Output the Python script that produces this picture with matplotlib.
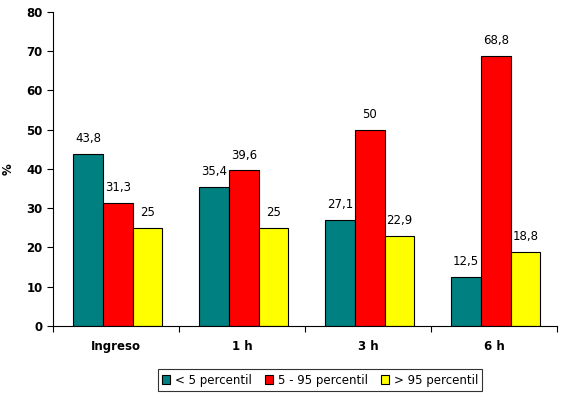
import numpy as np
import matplotlib.pyplot as plt

categories = ['Ingreso', '1 h', '3 h', '6 h']
series_names = ['< 5 percentil', '5 - 95 percentil', '> 95 percentil']
low = [43.8, 35.4, 27.1, 12.5]
mid = [31.3, 39.6, 50, 68.8]
high = [25, 25, 22.9, 18.8]
colors = ['#008080', '#ff0000', '#ffff00']

plt.rcParams['font.family'] = 'DejaVu Sans'

fig = plt.figure(figsize=(5.7, 3.96), dpi=100)
ax = fig.add_axes([0.093, 0.177, 0.884, 0.793])

x = np.arange(len(categories))
w = 0.235
for i, (vals, name, c) in enumerate(zip([low, mid, high], series_names, colors)):
    pos = x + (i - 1) * w + 0.015
    ax.bar(pos, vals, width=w, color=c, edgecolor='black', linewidth=0.8, label=name)
    for px, v in zip(pos, vals):
        txt = ('%g' % v).replace('.', ',')
        ax.text(px, v + 2.2, txt, ha='center', va='bottom', fontsize=8.5)

ax.set_xlim(-0.5, len(categories) - 0.5)
ax.set_ylim(0, 80)
ax.set_yticks(range(0, 81, 10))
ax.set_xticks(x)
ax.set_xticklabels(categories, fontsize=8.5, fontweight='bold')
ax.set_xticks(np.arange(-0.5, len(categories)), minor=True)
ax.tick_params(axis='x', which='major', length=0, pad=10)
ax.tick_params(axis='x', which='minor', length=4, width=0.8)
ax.tick_params(axis='y', length=4, width=0.8, labelsize=8.5)
for lab in ax.get_yticklabels():
    lab.set_fontweight('bold')
ax.set_ylabel('%', fontsize=8.5, fontweight='bold', labelpad=8)
ax.spines['top'].set_visible(False)
ax.spines['right'].set_visible(False)

leg = ax.legend(loc='upper center', bbox_to_anchor=(0.53, -0.12), ncol=3, fontsize=8.5,
                frameon=True, fancybox=False, edgecolor='black', handlelength=0.7,
                handleheight=0.7, handletextpad=0.4, columnspacing=1.1, borderpad=0.35)
leg.get_frame().set_linewidth(0.8)

fig.savefig('out.png', dpi=100)
